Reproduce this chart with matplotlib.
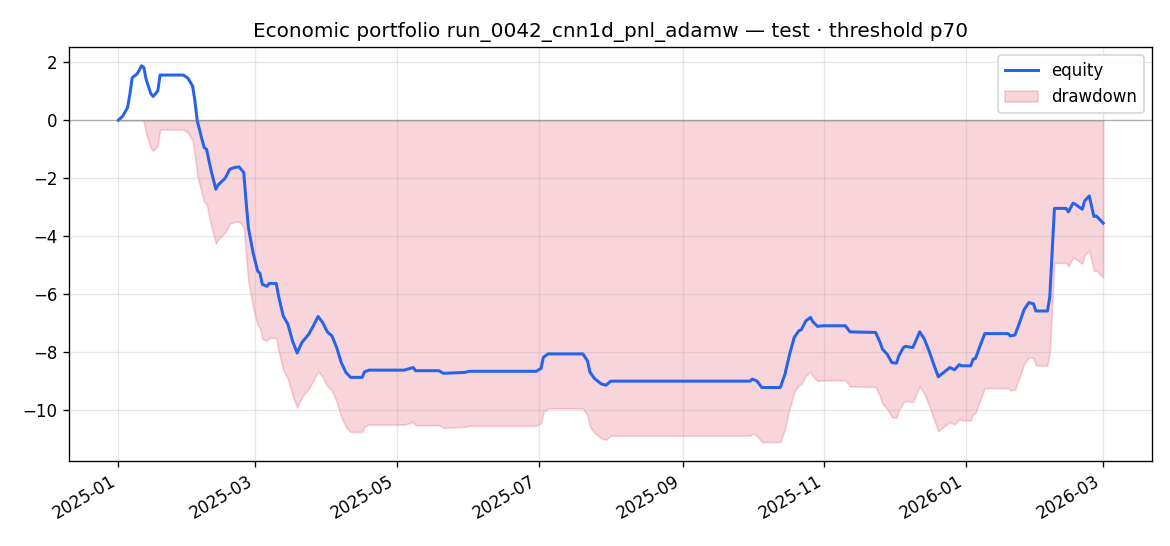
import numpy as np
import pandas as pd
import matplotlib
matplotlib.use("Agg")
import matplotlib.pyplot as plt
import matplotlib.dates as mdates

# equity curve (date, cumulative pnl)
dates = [
    "2025-01-01", "2025-01-03", "2025-01-05", "2025-01-06", "2025-01-07", "2025-01-09",
    "2025-01-10", "2025-01-11", "2025-01-12", "2025-01-13", "2025-01-15", "2025-01-16",
    "2025-01-18", "2025-01-19", "2025-01-29", "2025-01-31", "2025-02-02", "2025-02-03",
    "2025-02-04", "2025-02-06", "2025-02-07", "2025-02-08", "2025-02-10", "2025-02-12",
    "2025-02-13", "2025-02-16", "2025-02-18", "2025-02-20", "2025-02-22", "2025-02-24",
    "2025-02-25", "2025-02-26", "2025-02-28", "2025-03-02", "2025-03-03", "2025-03-04",
    "2025-03-06", "2025-03-07", "2025-03-10", "2025-03-11", "2025-03-13", "2025-03-15",
    "2025-03-17", "2025-03-19", "2025-03-21", "2025-03-24", "2025-03-26", "2025-03-28",
    "2025-03-30", "2025-04-01", "2025-04-03", "2025-04-05", "2025-04-07", "2025-04-09",
    "2025-04-11", "2025-04-16", "2025-04-17", "2025-04-19", "2025-05-04", "2025-05-08",
    "2025-05-09", "2025-05-19", "2025-05-21", "2025-05-30", "2025-06-01", "2025-06-30",
    "2025-07-02", "2025-07-03", "2025-07-05", "2025-07-20", "2025-07-22", "2025-07-23",
    "2025-07-25", "2025-07-28", "2025-07-30", "2025-08-01", "2025-09-30", "2025-10-01",
    "2025-10-03", "2025-10-05", "2025-10-13", "2025-10-15", "2025-10-17", "2025-10-19",
    "2025-10-21", "2025-10-22", "2025-10-24", "2025-10-26", "2025-10-27", "2025-10-29",
    "2025-10-31", "2025-11-10", "2025-11-12", "2025-11-23", "2025-11-25", "2025-11-26",
    "2025-11-28", "2025-11-30", "2025-12-02", "2025-12-03", "2025-12-05", "2025-12-06",
    "2025-12-09", "2025-12-10", "2025-12-12", "2025-12-14", "2025-12-16", "2025-12-18",
    "2025-12-20", "2025-12-22", "2025-12-25", "2025-12-27", "2025-12-29", "2025-12-30",
    "2026-01-03", "2026-01-04", "2026-01-05", "2026-01-07", "2026-01-09", "2026-01-19",
    "2026-01-20", "2026-01-22", "2026-01-24", "2026-01-26", "2026-01-28", "2026-01-30",
    "2026-01-31", "2026-02-05", "2026-02-06", "2026-02-08", "2026-02-13", "2026-02-14",
    "2026-02-16", "2026-02-17", "2026-02-20", "2026-02-21", "2026-02-23", "2026-02-24",
    "2026-02-25", "2026-02-26", "2026-02-28", "2026-03-01",
]
equity = [
    0.00, 0.15, 0.44, 0.90, 1.47, 1.59,
    1.72, 1.88, 1.82, 1.41, 0.92, 0.82,
    1.01, 1.56, 1.56, 1.45, 1.18, 0.67,
    -0.02, -0.65, -0.94, -1.00, -1.75, -2.38,
    -2.23, -2.00, -1.69, -1.63, -1.61, -1.80,
    -2.78, -3.70, -4.56, -5.20, -5.28, -5.66,
    -5.73, -5.63, -5.63, -6.06, -6.75, -7.03,
    -7.61, -8.03, -7.67, -7.38, -7.09, -6.77,
    -6.98, -7.30, -7.44, -7.84, -8.36, -8.70,
    -8.87, -8.87, -8.68, -8.62, -8.62, -8.53,
    -8.64, -8.64, -8.73, -8.70, -8.66, -8.66,
    -8.56, -8.18, -8.06, -8.06, -8.30, -8.68,
    -8.91, -9.10, -9.14, -9.00, -9.00, -8.93,
    -9.00, -9.22, -9.22, -8.76, -8.07, -7.49,
    -7.26, -7.23, -6.92, -6.80, -6.95, -7.11,
    -7.09, -7.09, -7.30, -7.32, -7.67, -7.90,
    -8.07, -8.36, -8.38, -8.13, -7.84, -7.80,
    -7.84, -7.67, -7.30, -7.55, -7.95, -8.41,
    -8.85, -8.72, -8.53, -8.61, -8.43, -8.47,
    -8.47, -8.24, -8.22, -7.78, -7.36, -7.36,
    -7.44, -7.41, -6.98, -6.52, -6.29, -6.33,
    -6.58, -6.58, -6.10, -3.04, -3.04, -3.16,
    -2.86, -2.90, -3.07, -2.78, -2.61, -2.96,
    -3.32, -3.30, -3.47, -3.55,
]

title = "Economic portfolio run_0042_cnn1d_pnl_adamw \u2014 test \u00b7 threshold p70"

x = pd.to_datetime(dates)
eq = np.array(equity)
drawdown = eq - np.maximum.accumulate(eq)

fig, ax = plt.subplots(figsize=(9.75, 4.55), dpi=120)
ax.plot(x, eq, color="#2563eb", lw=1.8, label="equity")
ax.fill_between(x, drawdown, 0, color="crimson", alpha=0.18, label="drawdown")
ax.axhline(0, color="0.45", lw=0.8, alpha=0.5)

ax.xaxis.set_major_locator(mdates.MonthLocator(bymonth=[1, 3, 5, 7, 9, 11]))
ax.xaxis.set_major_formatter(mdates.DateFormatter("%Y-%m"))
ax.grid(alpha=0.3)
ax.legend(loc="upper right")
ax.set_title(title)
fig.autofmt_xdate()

plt.subplots_adjust(left=0.059, right=0.985, top=0.914, bottom=0.156)
plt.savefig("out.png")
